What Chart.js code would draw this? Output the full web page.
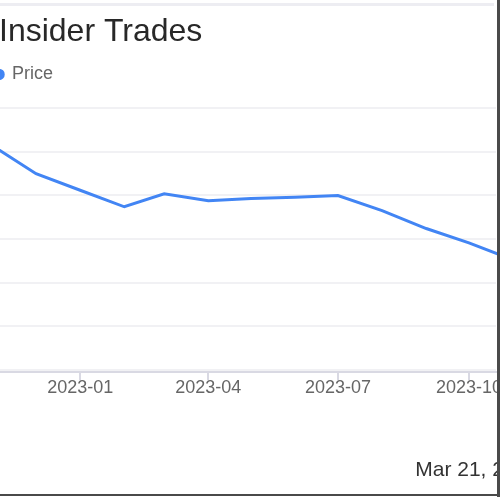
<!DOCTYPE html>
<html><head><meta charset="utf-8">
<script src="https://cdn.jsdelivr.net/npm/chart.js@4"></script>
<style>
html,body{margin:0;padding:0;background:#fff;}
#wrap{position:relative;width:500px;height:500px;overflow:hidden;background:#fff;}
#c{position:absolute;left:-21px;top:0;}
#topband{position:absolute;left:0;top:3px;width:494px;height:3px;background:#ededf2;}
#rb{position:absolute;left:497px;top:0;width:3px;height:497px;background:#4a4a4a;}
#bb{position:absolute;left:0;top:494px;width:500px;height:2px;background:#4a4a4a;}
</style></head>
<body><div id="wrap"><canvas id="c" width="560" height="500"></canvas><div id="topband"></div><div id="rb"></div><div id="bb"></div></div>
<script>
const titleText = 'Insider Trades';
const seriesName = 'Price';
const dateText = 'Mar 21, 2024';
const dates = ['2022-11-01','2022-12-01','2023-01-01','2023-02-01','2023-03-01','2023-04-01','2023-05-01','2023-06-01','2023-07-01','2023-08-01','2023-09-01','2023-10-01','2023-11-01'];
const prices = [51.3, 45.0, 41.2, 37.4, 40.4, 38.8, 39.3, 39.6, 40.0, 36.5, 32.4, 29.1, 25.2];
const tickDates = ['2023-01-01','2023-04-01','2023-07-01','2023-10-01'];
const tickLabels = ['2023-01','2023-04','2023-07','2023-10'];
const yTicks = [0, 10, 20, 30, 40, 50, 60];
const xMinDate = '2022-11-05', xMaxDate = '2023-10-20';

const DAY = 86400000, ORIGIN = Date.UTC(2023, 0, 1);
const toDay = s => { const [y, m, d] = s.split('-').map(Number); return (Date.UTC(y, m - 1, d) - ORIGIN) / DAY; };
const tickDays = tickDates.map(toDay);

Chart.defaults.font.family = "'Liberation Sans', Arial, sans-serif";

new Chart(document.getElementById('c'), {
  type: 'line',
  data: {
    datasets: [{
      label: seriesName,
      data: dates.map((d, i) => ({ x: toDay(d), y: prices[i] })),
      borderColor: '#4285f4',
      backgroundColor: '#4285f4',
      borderWidth: 3,
      pointRadius: 0,
      tension: 0,
      clip: { left: 10, top: 10, right: 10, bottom: 10 }
    }]
  },
  options: {
    responsive: false,
    animation: false,
    devicePixelRatio: 1,
    layout: { padding: 0 },
    scales: {
      x: {
        type: 'linear',
        min: toDay(xMinDate),
        max: toDay(xMaxDate),
        afterBuildTicks: s => { s.ticks = tickDays.map(v => ({ value: v })); },
        ticks: {
          autoSkip: false, maxRotation: 0, padding: -3, color: '#666',
          font: { size: 18 },
          callback: v => { const i = tickDays.indexOf(v); return i >= 0 ? tickLabels[i] : ''; }
        },
        grid: { drawOnChartArea: false, drawTicks: true, tickLength: 8, color: '#d9d9e3', lineWidth: 2 },
        border: { display: true, color: '#d9d9e3', width: 2 },
        afterFit: s => { s.paddingRight = 43; s.paddingLeft = 0; }
      },
      xTop: {
        type: 'linear', position: 'top', display: true,
        ticks: { display: false },
        grid: { display: false },
        border: { display: false },
        afterFit: s => { s.height = 15; s.paddingLeft = 0; s.paddingRight = 0; }
      },
      y: {
        min: -0.6,
        max: 60,
        afterBuildTicks: s => { s.ticks = yTicks.map(v => ({ value: v })); },
        ticks: { display: false },
        grid: { color: '#f1f1f4', lineWidth: 2, drawTicks: false },
        border: { display: false },
        afterFit: s => { s.width = 20; }
      }
    },
    plugins: {
      title: {
        display: true, text: titleText, align: 'start', fullSize: false,
        color: '#282828', font: { size: 32, weight: 'normal' },
        padding: { top: 13, bottom: -2 }
      },
      legend: {
        display: true, align: 'start',
        labels: { usePointStyle: true, pointStyle: 'circle', boxWidth: 8, boxHeight: 6, padding: 16, color: '#666', font: { size: 18 } }
      },
      subtitle: {
        display: true, text: dateText, position: 'bottom', align: 'end',
        color: '#333', font: { size: 21, weight: 'normal' },
        padding: { top: 62, bottom: 17 }
      },
      tooltip: { enabled: false }
    }
  }
});
</script>
</body></html>
